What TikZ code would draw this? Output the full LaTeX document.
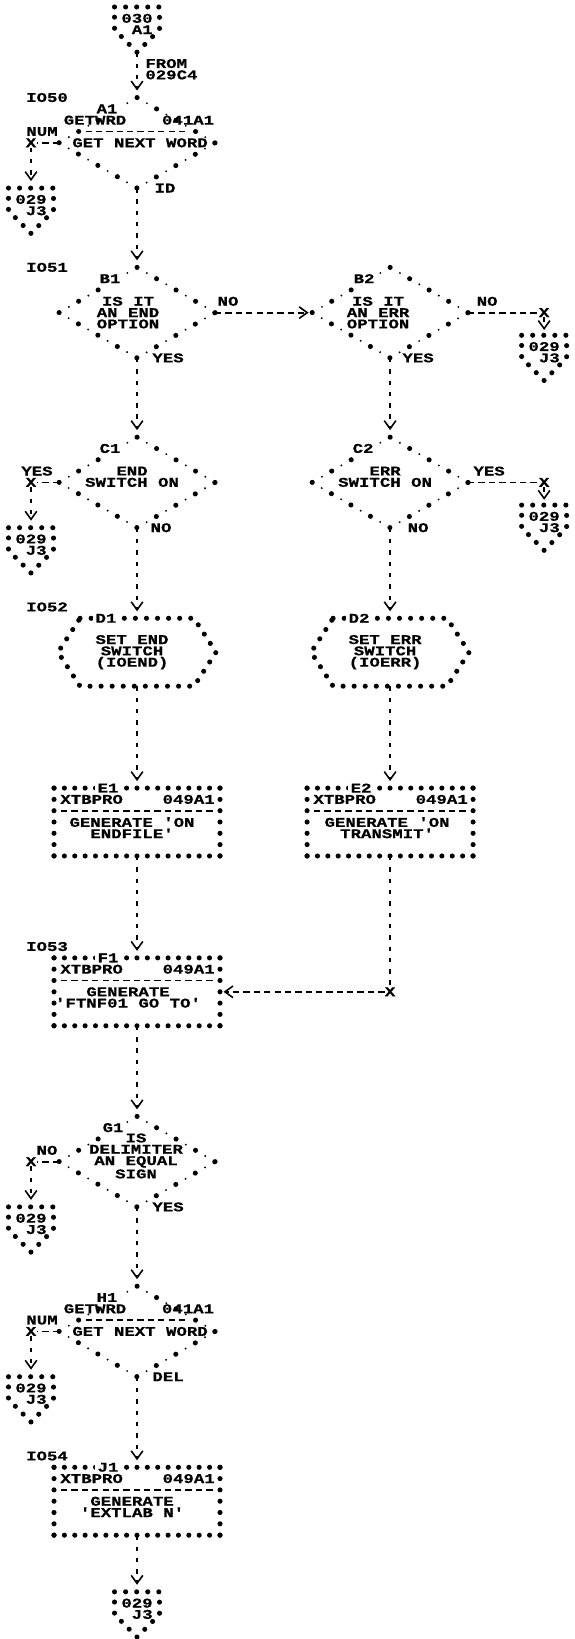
\documentclass[tikz,border=0pt]{standalone}
\usepackage{fontspec}
\usepackage{tikz}
\usetikzlibrary{positioning,arrows.meta,calc,shapes.geometric}
\newfontfamily\lpt{Liberation Mono}[FakeStretch=1.3,FakeBold=0.6]

\begin{document}
\begin{tikzpicture}[
  x=0.02cm, y=-0.2264cm,
  >={Straight Barb[length=4.6pt,width=6.6pt,line width=0.9pt]},
  lbl/.style={font=\lpt\bfseries\fontsize{7.6pt}{6.44pt}\selectfont, inner sep=0pt, align=center},
  decide/.style={diamond, minimum width=3.12cm, minimum height=1.811cm, inner sep=0pt, outer sep=0pt,
    draw, line width=2.9pt, line cap=round, dash pattern=on 0pt off 12.82pt,
    postaction={draw, line width=1.2pt, line cap=round, dash pattern=on 0pt off 12.82pt, dash phase=6.41pt}},
  procbox/.style={rectangle, minimum width=3.32cm, minimum height=1.358cm, inner sep=0pt, outer sep=0pt},
  hexbox/.style={rectangle, minimum width=3.16cm, minimum height=1.358cm, inner sep=0pt, outer sep=0pt},
  offpage/.style={rectangle, minimum width=0.9cm, minimum height=0.9056cm, inner sep=0pt, outer sep=0pt},
  hstar/.style={line width=2.9pt, line cap=round, dash pattern=on 0pt off 5.9pt},
  vstar/.style={line width=2.9pt, line cap=round, dash pattern=on 0pt off 6.43pt},
  tstar/.style={line width=2.9pt, line cap=round, dash pattern=on 0pt off 6.3pt},
  vflow/.style={line width=1.4pt, dash pattern=on 2.5pt off 3.94pt},
  hflow/.style={line width=1pt, dash pattern=on 3.6pt off 2.3pt},
  stripe/.style={line width=1pt, dash pattern=on 3.6pt off 2.3pt, shorten <=4pt, shorten >=4pt},
  tag/.style={lbl, fill=white, inner xsep=1.5pt, inner ysep=1pt},
]

\path[use as bounding box, fill=white] (0,-0.618) rectangle (574,144.17);

% ---- off-page connectors ----
\foreach \nm/\x/\r/\pa/\pb in {conTop/137/2/030/A1, conA1/31/18/029/J3, conB2/544/31/029/J3,
    conC1/31/48/029/J3, conC2/544/46/029/J3, conG1/31/108/029/J3, conH1/31/123/029/J3, conEnd/137/142/029/J3} {
  \node[offpage] (\nm) at (\x,\r) {};
  \draw[tstar] (\nm.north west) -- (\nm.north east) -- (\nm.east) -- (\nm.south) -- (\nm.west) -- cycle;
  \node[lbl, align=right] (\nm txt) at (\x,\r-0.5) {\pa\\\pb};
}
\node[lbl, anchor=west, align=left] (from) at (145,5.5) {FROM\\029C4};

% ---- statement labels ----
\node[lbl] (IO50) at (47,8) {IO50};
\node[lbl] (IO51) at (47,23) {IO51};
\node[lbl] (IO52) at (47,53) {IO52};
\node[lbl] (IO53) at (47,83) {IO53};
\node[lbl] (IO54) at (47,128) {IO54};

% ---- A1: get next word ----
\node[decide] (A1) at (137,12) {};
\draw[stripe] ($(A1.north)!0.75!(A1.west)$) -- ($(A1.north)!0.75!(A1.east)$);
\node[tag] (A1id) at (107,9) {A1};
\node[lbl] (A1mod) at (95,10) {GETWRD};
\node[lbl] (A1ref) at (188,10) {041A1};
\node[lbl] (A1txt) at (140,12) {GET NEXT WORD};
\node[lbl] (A1num) at (42,11) {NUM};
\node[lbl] (xA1) at (31,12) {X};
\node[lbl] (A1id2) at (165,16) {ID};

% ---- B1 / B2 ----
\node[decide] (B1) at (137,27) {};
\node[tag] (B1id) at (110,24) {B1};
\node[lbl] (B1txt) at (128,27) {IS IT\\AN END\\OPTION};
\node[lbl] (B1no) at (228,26) {NO};
\node[lbl] (B1yes) at (168,31) {YES};
\node[decide] (B2) at (390,27) {};
\node[tag] (B2id) at (364,24) {B2};
\node[lbl] (B2txt) at (378,27) {IS IT\\AN ERR\\OPTION};
\node[lbl] (B2no) at (487,26) {NO};
\node[lbl] (B2yes) at (418,31) {YES};
\node[lbl] (xB2) at (544,27) {X};

% ---- C1 / C2 ----
\node[decide] (C1) at (137,42) {};
\node[tag] (C1id) at (110,39) {C1};
\node[lbl] (C1txt) at (132,41.5) {END\\SWITCH ON};
\node[lbl] (C1yes) at (37,41) {YES};
\node[lbl] (xC1) at (31,42) {X};
\node[lbl] (C1no) at (161,46) {NO};
\node[decide] (C2) at (390,42) {};
\node[tag] (C2id) at (363,39) {C2};
\node[lbl] (C2txt) at (385,41.5) {ERR\\SWITCH ON};
\node[lbl] (C2yes) at (489,41) {YES};
\node[lbl] (xC2) at (544,42) {X};
\node[lbl] (C2no) at (418,46) {NO};

% ---- D1 / D2 ----
\node[hexbox] (D1) at (137,57) {};
\draw[tstar] ([xshift=0.44cm]D1.north west) -- ([xshift=-0.44cm]D1.north east) -- (D1.east)
  -- ([xshift=-0.44cm]D1.south east) -- ([xshift=0.44cm]D1.south west) -- (D1.west) -- cycle;
\node[tag] (D1id) at (106,54) {D1};
\node[lbl] (D1txt) at (132,57) {SET END\\SWITCH\\(IOEND)};
\node[hexbox] (D2) at (390,57) {};
\draw[tstar] ([xshift=0.44cm]D2.north west) -- ([xshift=-0.44cm]D2.north east) -- (D2.east)
  -- ([xshift=-0.44cm]D2.south east) -- ([xshift=0.44cm]D2.south west) -- (D2.west) -- cycle;
\node[tag] (D2id) at (359,54) {D2};
\node[lbl] (D2txt) at (385,57) {SET ERR\\SWITCH\\(IOERR)};

% ---- E1 / E2 ----
\node[procbox] (E1) at (137,72) {};
\draw[hstar] (E1.north west) -- (E1.north east) (E1.south west) -- (E1.south east);
\draw[vstar] (E1.north west) -- (E1.south west) (E1.north east) -- (E1.south east);
\draw[stripe] ($(E1.north west)+(0,2)$) -- ($(E1.north east)+(0,2)$);
\node[tag] (E1id) at (108,69) {E1};
\node[lbl, anchor=west] (E1mod) at (60,70) {XTBPRO};
\node[lbl, anchor=east] (E1ref) at (215,70) {049A1};
\node[lbl] (E1txt) at (132,72.5) {GENERATE 'ON\\ENDFILE'};
\node[procbox] (E2) at (390,72) {};
\draw[hstar] (E2.north west) -- (E2.north east) (E2.south west) -- (E2.south east);
\draw[vstar] (E2.north west) -- (E2.south west) (E2.north east) -- (E2.south east);
\draw[stripe] ($(E2.north west)+(0,2)$) -- ($(E2.north east)+(0,2)$);
\node[tag] (E2id) at (361,69) {E2};
\node[lbl, anchor=west] (E2mod) at (313,70) {XTBPRO};
\node[lbl, anchor=east] (E2ref) at (468,70) {049A1};
\node[lbl] (E2txt) at (387,72.5) {GENERATE 'ON\\TRANSMIT'};
\node[lbl] (xE2) at (390,87) {X};

% ---- F1 ----
\node[procbox] (F1) at (137,87) {};
\draw[hstar] (F1.north west) -- (F1.north east) (F1.south west) -- (F1.south east);
\draw[vstar] (F1.north west) -- (F1.south west) (F1.north east) -- (F1.south east);
\draw[stripe] ($(F1.north west)+(0,2)$) -- ($(F1.north east)+(0,2)$);
\node[tag] (F1id) at (108,84) {F1};
\node[lbl, anchor=west] (F1mod) at (60,85) {XTBPRO};
\node[lbl, anchor=east] (F1ref) at (215,85) {049A1};
\node[lbl] (F1txt) at (128,87.5) {GENERATE\\'FTNF01 GO TO'};

% ---- G1 ----
\node[decide] (G1) at (137,102) {};
\node[tag] (G1id) at (113,99) {G1};
\node[lbl] (G1txt) at (136,101.5) {IS\\DELIMITER\\AN EQUAL\\SIGN};
\node[lbl] (G1no) at (47,101) {NO};
\node[lbl] (xG1) at (31,102) {X};
\node[lbl] (G1yes) at (168,106) {YES};

% ---- H1 ----
\node[decide] (H1) at (137,117) {};
\draw[stripe] ($(H1.north)!0.75!(H1.west)$) -- ($(H1.north)!0.75!(H1.east)$);
\node[tag] (H1id) at (107,114) {H1};
\node[lbl] (H1mod) at (95,115) {GETWRD};
\node[lbl] (H1ref) at (188,115) {041A1};
\node[lbl] (H1txt) at (140,117) {GET NEXT WORD};
\node[lbl] (H1num) at (42,116) {NUM};
\node[lbl] (xH1) at (31,117) {X};
\node[lbl] (H1del) at (168,121) {DEL};

% ---- J1 ----
\node[procbox] (J1) at (137,132) {};
\draw[hstar] (J1.north west) -- (J1.north east) (J1.south west) -- (J1.south east);
\draw[vstar] (J1.north west) -- (J1.south west) (J1.north east) -- (J1.south east);
\draw[stripe] ($(J1.north west)+(0,2)$) -- ($(J1.north east)+(0,2)$);
\node[tag] (J1id) at (108,129) {J1};
\node[lbl, anchor=west] (J1mod) at (60,130) {XTBPRO};
\node[lbl, anchor=east] (J1ref) at (215,130) {049A1};
\node[lbl] (J1txt) at (132,132.5) {GENERATE\\'EXTLAB N'};

% ---- flow ----
\draw[vflow, ->, shorten >=4pt] (conTop.south) -- (A1.north);
\draw[hflow] (A1.west) -- (xA1.east);
\draw[vflow, ->, shorten >=4pt] (xA1.south) -- (conA1.north);
\draw[vflow, ->, shorten >=4pt] (A1.south) -- (B1.north);
\draw[hflow, ->, shorten >=2pt] (B1.east) -- (B2.west);
\draw[hflow] (B2.east) -- (xB2.west);
\draw[vflow, ->, shorten >=3pt] (xB2.south) -- (conB2.north);
\draw[vflow, ->, shorten >=4pt] (B1.south) -- (C1.north);
\draw[vflow, ->, shorten >=4pt] (B2.south) -- (C2.north);
\draw[hflow] (C1.west) -- (xC1.east);
\draw[vflow, ->, shorten >=4pt] (xC1.south) -- (conC1.north);
\draw[hflow] (C2.east) -- (xC2.west);
\draw[vflow, ->, shorten >=3pt] (xC2.south) -- (conC2.north);
\draw[vflow, ->, shorten >=4pt] (C1.south) -- (D1.north);
\draw[vflow, ->, shorten >=4pt] (C2.south) -- (D2.north);
\draw[vflow, ->, shorten >=4pt] (D1.south) -- (E1.north);
\draw[vflow, ->, shorten >=4pt] (D2.south) -- (E2.north);
\draw[vflow, ->, shorten >=4pt] (E1.south) -- (F1.north);
\draw[vflow] (E2.south) -- (xE2.north);
\draw[hflow, ->, shorten >=2pt] (xE2.west) -- (F1.east);
\draw[vflow, ->, shorten >=4pt] (F1.south) -- (G1.north);
\draw[hflow] (G1.west) -- (xG1.east);
\draw[vflow, ->, shorten >=4pt] (xG1.south) -- (conG1.north);
\draw[vflow, ->, shorten >=4pt] (G1.south) -- (H1.north);
\draw[hflow] (H1.west) -- (xH1.east);
\draw[vflow, ->, shorten >=4pt] (xH1.south) -- (conH1.north);
\draw[vflow, ->, shorten >=4pt] (H1.south) -- (J1.north);
\draw[vflow, ->, shorten >=4pt] (J1.south) -- (conEnd.north);

\end{tikzpicture}
\end{document}
